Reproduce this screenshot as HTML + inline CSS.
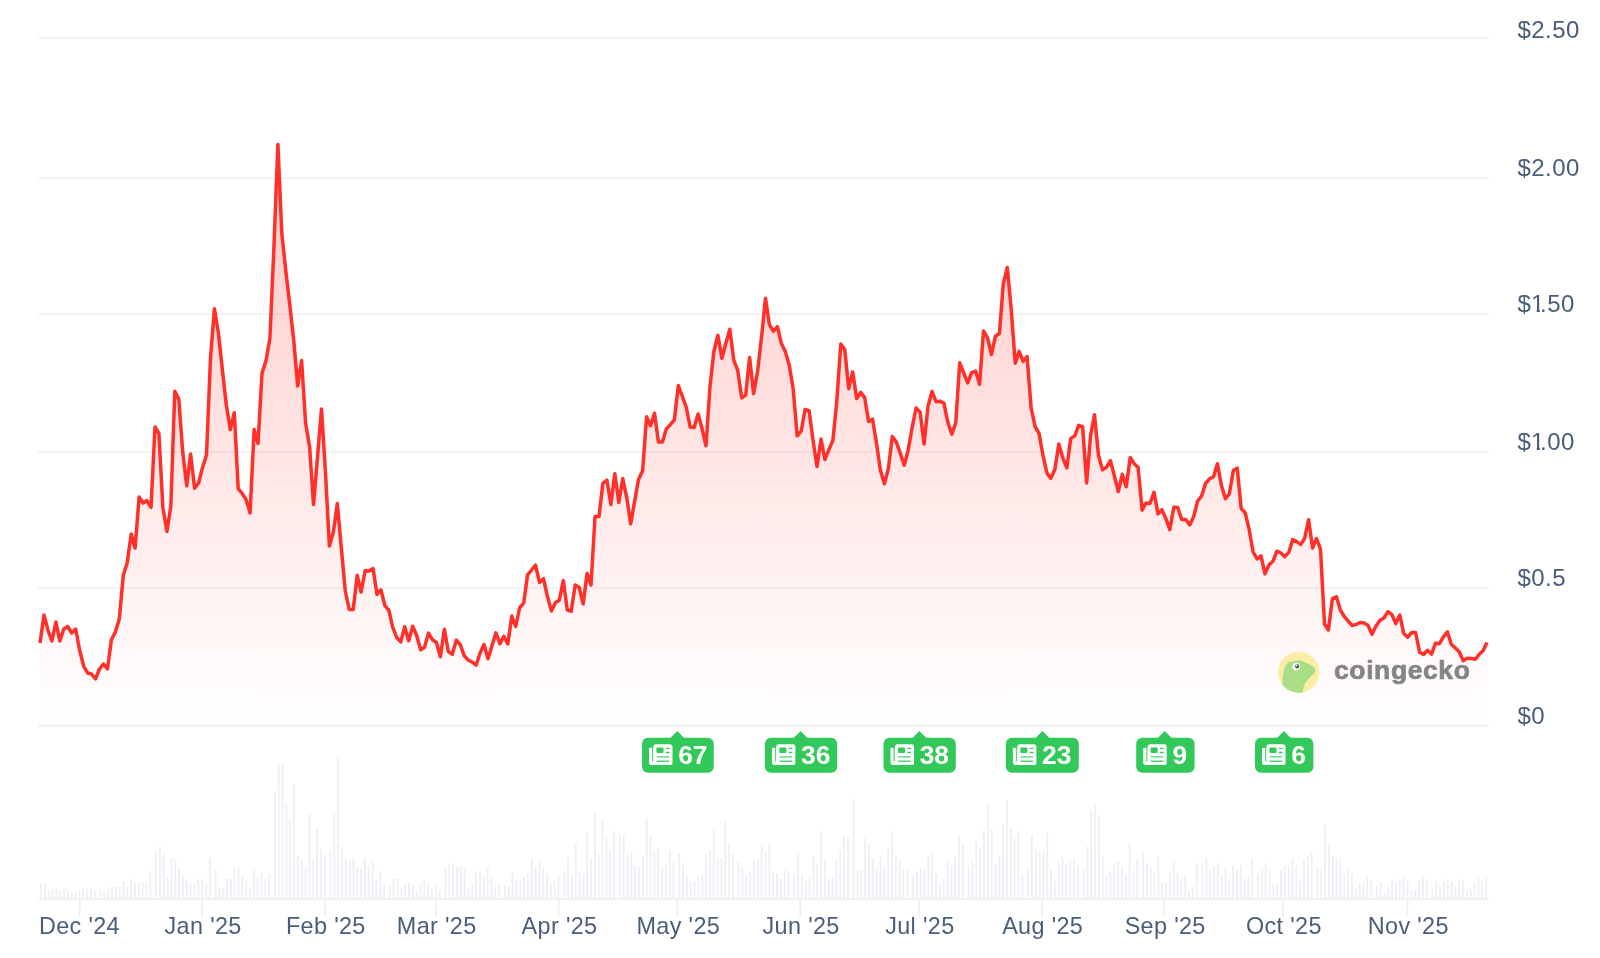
<!DOCTYPE html>
<html><head><meta charset="utf-8"><title>Chart</title>
<style>
html,body{margin:0;padding:0;background:#fff;}
body{width:1600px;height:958px;overflow:hidden;font-family:"Liberation Sans",sans-serif;}
svg{display:block;will-change:transform;}
text{font-family:"Liberation Sans",sans-serif;}
</style></head><body>
<svg width="1600" height="958" viewBox="0 0 1600 958">
<defs>
<linearGradient id="ag" gradientUnits="userSpaceOnUse" x1="0" y1="144" x2="0" y2="725">
<stop offset="0" stop-color="#ff3a33" stop-opacity="0.275"/>
<stop offset="1" stop-color="#ff3a33" stop-opacity="0"/>
</linearGradient>
</defs>
<rect width="1600" height="958" fill="#fff"/>
<rect x="38.3" y="37.2" width="1450.7" height="1.6" fill="#eef0f5"/>
<rect x="38.3" y="177.2" width="1450.7" height="1.6" fill="#eef0f5"/>
<rect x="38.3" y="313.2" width="1450.7" height="1.6" fill="#eef0f5"/>
<rect x="38.3" y="451.09999999999997" width="1450.7" height="1.6" fill="#eef0f5"/>
<rect x="38.3" y="587.2" width="1450.7" height="1.6" fill="#eef0f5"/>
<path d="M40.0,643.0 L44.0,615.0 L47.9,630.0 L51.9,641.0 L55.9,622.0 L59.8,641.0 L63.8,629.0 L67.8,626.5 L71.7,633.0 L75.7,629.0 L79.6,650.0 L83.6,666.0 L87.6,673.0 L91.5,674.0 L95.5,679.0 L99.5,669.0 L103.4,664.0 L107.4,669.0 L111.4,640.0 L115.3,632.0 L119.3,619.0 L123.3,575.0 L127.2,563.0 L131.2,534.0 L135.1,548.0 L139.1,497.0 L143.1,503.0 L147.0,500.5 L151.0,507.5 L155.0,427.0 L158.9,433.5 L162.9,508.0 L166.9,531.4 L170.8,506.6 L174.8,391.3 L178.8,399.0 L182.7,451.8 L186.7,485.7 L190.6,453.9 L194.6,488.3 L198.6,483.0 L202.5,467.5 L206.5,455.0 L210.5,358.0 L214.4,308.8 L218.4,333.0 L222.4,370.0 L226.3,404.8 L230.3,429.6 L234.3,412.7 L238.2,488.6 L242.2,493.5 L246.1,499.5 L250.1,513.0 L254.1,429.6 L258.0,443.4 L262.0,373.5 L266.0,360.5 L269.9,338.5 L273.9,248.0 L277.9,144.4 L281.8,233.0 L285.8,271.0 L289.8,305.0 L293.7,340.0 L297.7,386.0 L301.6,360.5 L305.6,423.0 L309.6,447.0 L313.5,504.5 L317.5,457.0 L321.5,409.0 L325.4,471.0 L329.4,546.0 L333.4,532.0 L337.3,503.5 L341.3,548.0 L345.3,591.0 L349.2,609.5 L353.2,609.5 L357.2,575.3 L361.1,592.0 L365.1,570.7 L369.0,571.0 L373.0,568.6 L377.0,594.4 L380.9,589.8 L384.9,605.6 L388.9,610.4 L392.8,627.7 L396.8,637.7 L400.8,641.9 L404.7,626.8 L408.7,640.7 L412.7,626.2 L416.6,635.2 L420.6,649.8 L424.5,647.3 L428.5,633.1 L432.5,639.8 L436.4,642.5 L440.4,656.7 L444.4,629.3 L448.3,651.5 L452.3,654.3 L456.3,640.1 L460.2,644.5 L464.2,655.7 L468.2,660.1 L472.1,662.0 L476.1,665.2 L480.0,653.3 L484.0,644.5 L488.0,658.7 L491.9,645.9 L495.9,632.8 L499.9,643.8 L503.8,636.4 L507.8,644.0 L511.8,616.0 L515.7,626.5 L519.7,607.5 L523.7,603.1 L527.6,574.8 L531.6,570.0 L535.5,565.1 L539.5,582.4 L543.5,578.7 L547.4,596.3 L551.4,610.9 L555.4,602.8 L559.3,600.2 L563.3,580.6 L567.3,609.9 L571.2,611.3 L575.2,585.0 L579.2,587.5 L583.1,603.9 L587.1,573.4 L591.0,585.0 L595.0,516.5 L599.0,516.5 L602.9,483.3 L606.9,480.0 L610.9,504.5 L614.8,473.7 L618.8,502.5 L622.8,478.5 L626.7,497.3 L630.7,523.7 L634.7,500.9 L638.6,479.2 L642.6,470.8 L646.6,416.8 L650.5,425.7 L654.5,413.2 L658.4,442.0 L662.4,442.0 L666.4,428.8 L670.3,424.7 L674.3,420.0 L678.3,385.6 L682.2,396.0 L686.2,407.2 L690.2,427.1 L694.1,427.6 L698.1,414.0 L702.1,428.8 L706.0,445.8 L710.0,386.0 L713.9,351.5 L717.9,335.2 L721.9,358.4 L725.8,343.5 L729.8,329.3 L733.8,360.4 L737.7,370.3 L741.7,397.7 L745.7,395.1 L749.6,357.4 L753.6,393.5 L757.6,371.3 L761.5,337.6 L765.5,298.3 L769.4,324.7 L773.4,331.3 L777.4,326.7 L781.3,343.2 L785.3,351.5 L789.3,365.4 L793.2,389.2 L797.2,435.8 L801.2,431.2 L805.1,409.4 L809.1,410.6 L813.1,440.7 L817.0,466.5 L821.0,439.1 L824.9,459.6 L828.9,449.7 L832.9,440.3 L836.8,401.1 L840.8,343.9 L844.8,349.7 L848.7,388.7 L852.7,372.0 L856.7,398.6 L860.6,392.3 L864.6,397.4 L868.6,421.5 L872.5,419.2 L876.5,443.1 L880.4,470.3 L884.4,483.8 L888.4,468.4 L892.3,436.5 L896.3,442.1 L900.3,453.4 L904.2,465.2 L908.2,450.0 L912.2,427.1 L916.1,407.9 L920.1,412.1 L924.1,444.0 L928.0,406.4 L932.0,391.4 L936.0,401.7 L939.9,401.2 L943.9,403.1 L947.8,422.4 L951.8,434.2 L955.8,422.4 L959.7,362.8 L963.7,373.0 L967.7,382.9 L971.6,372.6 L975.6,371.1 L979.6,384.3 L983.5,330.9 L987.5,337.9 L991.5,354.5 L995.4,336.2 L999.4,333.5 L1003.3,283.8 L1007.3,267.5 L1011.3,310.1 L1015.2,363.2 L1019.2,351.4 L1023.2,361.5 L1027.1,356.5 L1031.1,407.8 L1035.1,426.6 L1039.0,433.4 L1043.0,455.4 L1047.0,473.4 L1050.9,478.4 L1054.9,469.2 L1058.8,444.1 L1062.8,457.9 L1066.8,467.9 L1070.7,438.6 L1074.7,435.9 L1078.7,425.3 L1082.6,426.6 L1086.6,483.0 L1090.6,435.4 L1094.5,414.8 L1098.5,455.4 L1102.5,469.9 L1106.4,467.4 L1110.4,460.6 L1114.3,475.5 L1118.3,491.5 L1122.3,474.3 L1126.2,486.8 L1130.2,457.5 L1134.2,463.8 L1138.1,467.4 L1142.1,510.1 L1146.1,502.9 L1150.0,503.4 L1154.0,492.4 L1158.0,513.9 L1161.9,509.7 L1165.9,518.6 L1169.8,529.6 L1173.8,507.3 L1177.8,507.6 L1181.7,519.5 L1185.7,519.5 L1189.7,524.9 L1193.6,516.7 L1197.6,501.1 L1201.6,496.0 L1205.5,483.5 L1209.5,478.8 L1213.5,476.8 L1217.4,463.8 L1221.4,485.4 L1225.4,498.7 L1229.3,494.0 L1233.3,470.5 L1237.2,468.2 L1241.2,508.6 L1245.2,512.8 L1249.1,529.2 L1253.1,552.0 L1257.1,559.0 L1261.0,555.9 L1265.0,573.9 L1269.0,564.9 L1272.9,561.3 L1276.9,551.2 L1280.9,553.0 L1284.8,556.6 L1288.8,552.4 L1292.7,539.5 L1296.7,541.6 L1300.7,544.4 L1304.6,538.5 L1308.6,519.7 L1312.6,547.9 L1316.5,538.5 L1320.5,549.2 L1324.5,624.0 L1328.4,630.0 L1332.4,598.6 L1336.4,596.8 L1340.3,609.9 L1344.3,616.5 L1348.2,621.2 L1352.2,625.5 L1356.2,624.4 L1360.1,622.5 L1364.1,623.1 L1368.1,625.5 L1372.0,634.3 L1376.0,625.9 L1380.0,620.3 L1383.9,618.0 L1387.9,611.8 L1391.9,614.6 L1395.8,623.6 L1399.8,615.0 L1403.7,633.4 L1407.7,637.2 L1411.7,632.5 L1415.6,632.5 L1419.6,652.2 L1423.6,654.5 L1427.5,650.3 L1431.5,654.1 L1435.5,643.2 L1439.4,643.7 L1443.4,636.8 L1447.4,631.9 L1451.3,644.3 L1455.3,648.1 L1459.2,651.8 L1463.2,660.7 L1467.2,658.2 L1471.1,658.4 L1475.1,659.3 L1479.1,654.5 L1483.0,650.7 L1487.0,642.4 L1487.0,725 L40.0,725 Z" fill="url(#ag)" stroke="none"/>
<rect x="38.3" y="724.8" width="1450.7" height="2" fill="#eef0f5"/>
<g>
<circle cx="1298.7" cy="672.2" r="20.6" fill="#fbeca6"/>
<path d="M1282.4,684.5 C1282.6,679 1282.8,672 1285.1,666.8 C1286.6,663.6 1288.5,662.4 1291,661.8 C1294,660.9 1297,660.4 1299.6,660.6 C1301.8,660.8 1303.4,661.6 1305.1,662.4 C1307.4,663.2 1309.4,664.2 1311.2,665.4 C1313.2,666.6 1315.2,667.4 1315.4,669 C1315.6,670.6 1315.2,671.8 1314.3,673 C1313,674.8 1311.6,676 1309.9,677.4 C1308,679 1306.3,680.8 1305.1,683.3 C1303.6,686 1302.9,689 1302.7,692.4 A20.6,20.6 0 0 1 1282.4,684.5 Z" fill="#a9dd86"/>
<circle cx="1296.2" cy="666.6" r="3.9" fill="#fff"/>
<circle cx="1297.2" cy="666.4" r="2.1" fill="#555"/>
<circle cx="1296.6" cy="665.6" r="0.8" fill="#fff"/>
<text x="1334" y="679.3" font-size="26.5" font-weight="bold" letter-spacing="0.6" fill="#858585" stroke="#858585" stroke-width="0.7" stroke-linejoin="round">coingecko</text>
</g>
<path d="M40.0,643.0 L44.0,615.0 L47.9,630.0 L51.9,641.0 L55.9,622.0 L59.8,641.0 L63.8,629.0 L67.8,626.5 L71.7,633.0 L75.7,629.0 L79.6,650.0 L83.6,666.0 L87.6,673.0 L91.5,674.0 L95.5,679.0 L99.5,669.0 L103.4,664.0 L107.4,669.0 L111.4,640.0 L115.3,632.0 L119.3,619.0 L123.3,575.0 L127.2,563.0 L131.2,534.0 L135.1,548.0 L139.1,497.0 L143.1,503.0 L147.0,500.5 L151.0,507.5 L155.0,427.0 L158.9,433.5 L162.9,508.0 L166.9,531.4 L170.8,506.6 L174.8,391.3 L178.8,399.0 L182.7,451.8 L186.7,485.7 L190.6,453.9 L194.6,488.3 L198.6,483.0 L202.5,467.5 L206.5,455.0 L210.5,358.0 L214.4,308.8 L218.4,333.0 L222.4,370.0 L226.3,404.8 L230.3,429.6 L234.3,412.7 L238.2,488.6 L242.2,493.5 L246.1,499.5 L250.1,513.0 L254.1,429.6 L258.0,443.4 L262.0,373.5 L266.0,360.5 L269.9,338.5 L273.9,248.0 L277.9,144.4 L281.8,233.0 L285.8,271.0 L289.8,305.0 L293.7,340.0 L297.7,386.0 L301.6,360.5 L305.6,423.0 L309.6,447.0 L313.5,504.5 L317.5,457.0 L321.5,409.0 L325.4,471.0 L329.4,546.0 L333.4,532.0 L337.3,503.5 L341.3,548.0 L345.3,591.0 L349.2,609.5 L353.2,609.5 L357.2,575.3 L361.1,592.0 L365.1,570.7 L369.0,571.0 L373.0,568.6 L377.0,594.4 L380.9,589.8 L384.9,605.6 L388.9,610.4 L392.8,627.7 L396.8,637.7 L400.8,641.9 L404.7,626.8 L408.7,640.7 L412.7,626.2 L416.6,635.2 L420.6,649.8 L424.5,647.3 L428.5,633.1 L432.5,639.8 L436.4,642.5 L440.4,656.7 L444.4,629.3 L448.3,651.5 L452.3,654.3 L456.3,640.1 L460.2,644.5 L464.2,655.7 L468.2,660.1 L472.1,662.0 L476.1,665.2 L480.0,653.3 L484.0,644.5 L488.0,658.7 L491.9,645.9 L495.9,632.8 L499.9,643.8 L503.8,636.4 L507.8,644.0 L511.8,616.0 L515.7,626.5 L519.7,607.5 L523.7,603.1 L527.6,574.8 L531.6,570.0 L535.5,565.1 L539.5,582.4 L543.5,578.7 L547.4,596.3 L551.4,610.9 L555.4,602.8 L559.3,600.2 L563.3,580.6 L567.3,609.9 L571.2,611.3 L575.2,585.0 L579.2,587.5 L583.1,603.9 L587.1,573.4 L591.0,585.0 L595.0,516.5 L599.0,516.5 L602.9,483.3 L606.9,480.0 L610.9,504.5 L614.8,473.7 L618.8,502.5 L622.8,478.5 L626.7,497.3 L630.7,523.7 L634.7,500.9 L638.6,479.2 L642.6,470.8 L646.6,416.8 L650.5,425.7 L654.5,413.2 L658.4,442.0 L662.4,442.0 L666.4,428.8 L670.3,424.7 L674.3,420.0 L678.3,385.6 L682.2,396.0 L686.2,407.2 L690.2,427.1 L694.1,427.6 L698.1,414.0 L702.1,428.8 L706.0,445.8 L710.0,386.0 L713.9,351.5 L717.9,335.2 L721.9,358.4 L725.8,343.5 L729.8,329.3 L733.8,360.4 L737.7,370.3 L741.7,397.7 L745.7,395.1 L749.6,357.4 L753.6,393.5 L757.6,371.3 L761.5,337.6 L765.5,298.3 L769.4,324.7 L773.4,331.3 L777.4,326.7 L781.3,343.2 L785.3,351.5 L789.3,365.4 L793.2,389.2 L797.2,435.8 L801.2,431.2 L805.1,409.4 L809.1,410.6 L813.1,440.7 L817.0,466.5 L821.0,439.1 L824.9,459.6 L828.9,449.7 L832.9,440.3 L836.8,401.1 L840.8,343.9 L844.8,349.7 L848.7,388.7 L852.7,372.0 L856.7,398.6 L860.6,392.3 L864.6,397.4 L868.6,421.5 L872.5,419.2 L876.5,443.1 L880.4,470.3 L884.4,483.8 L888.4,468.4 L892.3,436.5 L896.3,442.1 L900.3,453.4 L904.2,465.2 L908.2,450.0 L912.2,427.1 L916.1,407.9 L920.1,412.1 L924.1,444.0 L928.0,406.4 L932.0,391.4 L936.0,401.7 L939.9,401.2 L943.9,403.1 L947.8,422.4 L951.8,434.2 L955.8,422.4 L959.7,362.8 L963.7,373.0 L967.7,382.9 L971.6,372.6 L975.6,371.1 L979.6,384.3 L983.5,330.9 L987.5,337.9 L991.5,354.5 L995.4,336.2 L999.4,333.5 L1003.3,283.8 L1007.3,267.5 L1011.3,310.1 L1015.2,363.2 L1019.2,351.4 L1023.2,361.5 L1027.1,356.5 L1031.1,407.8 L1035.1,426.6 L1039.0,433.4 L1043.0,455.4 L1047.0,473.4 L1050.9,478.4 L1054.9,469.2 L1058.8,444.1 L1062.8,457.9 L1066.8,467.9 L1070.7,438.6 L1074.7,435.9 L1078.7,425.3 L1082.6,426.6 L1086.6,483.0 L1090.6,435.4 L1094.5,414.8 L1098.5,455.4 L1102.5,469.9 L1106.4,467.4 L1110.4,460.6 L1114.3,475.5 L1118.3,491.5 L1122.3,474.3 L1126.2,486.8 L1130.2,457.5 L1134.2,463.8 L1138.1,467.4 L1142.1,510.1 L1146.1,502.9 L1150.0,503.4 L1154.0,492.4 L1158.0,513.9 L1161.9,509.7 L1165.9,518.6 L1169.8,529.6 L1173.8,507.3 L1177.8,507.6 L1181.7,519.5 L1185.7,519.5 L1189.7,524.9 L1193.6,516.7 L1197.6,501.1 L1201.6,496.0 L1205.5,483.5 L1209.5,478.8 L1213.5,476.8 L1217.4,463.8 L1221.4,485.4 L1225.4,498.7 L1229.3,494.0 L1233.3,470.5 L1237.2,468.2 L1241.2,508.6 L1245.2,512.8 L1249.1,529.2 L1253.1,552.0 L1257.1,559.0 L1261.0,555.9 L1265.0,573.9 L1269.0,564.9 L1272.9,561.3 L1276.9,551.2 L1280.9,553.0 L1284.8,556.6 L1288.8,552.4 L1292.7,539.5 L1296.7,541.6 L1300.7,544.4 L1304.6,538.5 L1308.6,519.7 L1312.6,547.9 L1316.5,538.5 L1320.5,549.2 L1324.5,624.0 L1328.4,630.0 L1332.4,598.6 L1336.4,596.8 L1340.3,609.9 L1344.3,616.5 L1348.2,621.2 L1352.2,625.5 L1356.2,624.4 L1360.1,622.5 L1364.1,623.1 L1368.1,625.5 L1372.0,634.3 L1376.0,625.9 L1380.0,620.3 L1383.9,618.0 L1387.9,611.8 L1391.9,614.6 L1395.8,623.6 L1399.8,615.0 L1403.7,633.4 L1407.7,637.2 L1411.7,632.5 L1415.6,632.5 L1419.6,652.2 L1423.6,654.5 L1427.5,650.3 L1431.5,654.1 L1435.5,643.2 L1439.4,643.7 L1443.4,636.8 L1447.4,631.9 L1451.3,644.3 L1455.3,648.1 L1459.2,651.8 L1463.2,660.7 L1467.2,658.2 L1471.1,658.4 L1475.1,659.3 L1479.1,654.5 L1483.0,650.7 L1487.0,642.4" fill="none" stroke="#ff3029" stroke-width="3.5" stroke-linejoin="round" stroke-linecap="butt"/>
<text x="1517.6" y="38" font-size="24" letter-spacing="0.4" fill="#4a5d7c">$2.50</text>
<text x="1517.6" y="176" font-size="24" letter-spacing="0.4" fill="#4a5d7c">$2.00</text>
<clipPath id="c314"><path d="M1532.0,293 H1540.0 V313 H1536.7 V309.6 H1532.0 Z"/></clipPath><text x="1517.6" y="312" font-size="24" letter-spacing="0.4" fill="#4a5d7c">$</text><text x="1531.0" y="312" font-size="24" letter-spacing="0.4" fill="#4a5d7c" clip-path="url(#c314)">1</text><text x="1540.1" y="312" font-size="24" letter-spacing="0.4" fill="#4a5d7c">.50</text>
<clipPath id="c451"><path d="M1532.0,430.9 H1540.0 V450.9 H1536.7 V447.5 H1532.0 Z"/></clipPath><text x="1517.6" y="449.9" font-size="24" letter-spacing="0.4" fill="#4a5d7c">$</text><text x="1531.0" y="449.9" font-size="24" letter-spacing="0.4" fill="#4a5d7c" clip-path="url(#c451)">1</text><text x="1540.1" y="449.9" font-size="24" letter-spacing="0.4" fill="#4a5d7c">.00</text>
<text x="1517.6" y="586" font-size="24" letter-spacing="0.4" fill="#4a5d7c">$0.5</text>
<text x="1517.6" y="724" font-size="24" letter-spacing="0.4" fill="#4a5d7c">$0</text>
<path d="M41.10,898.4v-15.9M44.93,898.4v-15.9M48.77,898.4v-7.9M52.60,898.4v-10.0M56.43,898.4v-10.0M60.26,898.4v-7.9M64.10,898.4v-10.0M67.93,898.4v-7.9M71.76,898.4v-6.0M75.60,898.4v-6.0M79.43,898.4v-7.9M83.26,898.4v-10.0M87.09,898.4v-10.0M90.93,898.4v-10.0M94.76,898.4v-7.9M100.51,898.4v-7.9M104.34,898.4v-6.0M108.17,898.4v-7.9M112.01,898.4v-11.9M115.84,898.4v-11.9M119.67,898.4v-11.9M123.51,898.4v-17.5M127.34,898.4v-11.9M131.17,898.4v-19.5M135.00,898.4v-15.9M138.84,898.4v-15.9M142.67,898.4v-15.9M146.50,898.4v-15.9M150.33,898.4v-27.0M156.08,898.4v-46.0M159.92,898.4v-52.0M163.75,898.4v-44.4M167.58,898.4v-21.4M171.42,898.4v-40.5M175.25,898.4v-38.9M179.08,898.4v-30.9M182.91,898.4v-23.0M186.75,898.4v-19.5M190.58,898.4v-15.9M194.41,898.4v-14.0M198.24,898.4v-19.5M202.08,898.4v-19.5M205.91,898.4v-14.0M209.74,898.4v-40.5M215.49,898.4v-29.0M219.33,898.4v-10.0M223.16,898.4v-10.0M226.99,898.4v-19.5M230.82,898.4v-19.5M234.66,898.4v-30.9M238.49,898.4v-30.9M242.32,898.4v-21.4M246.15,898.4v-17.5M249.99,898.4v-10.0M253.82,898.4v-29.0M257.65,898.4v-21.4M261.49,898.4v-25.0M265.32,898.4v-19.5M269.15,898.4v-25.0M274.90,898.4v-107.9M278.73,898.4v-132.8M282.57,898.4v-134.4M286.40,898.4v-94.4M290.23,898.4v-77.3M294.06,898.4v-113.4M297.90,898.4v-42.5M301.73,898.4v-38.9M305.56,898.4v-30.9M309.40,898.4v-84.9M313.23,898.4v-38.9M317.06,898.4v-71.1M320.89,898.4v-50.0M324.73,898.4v-44.4M330.48,898.4v-48.1M334.31,898.4v-84.9M338.14,898.4v-140.4M341.97,898.4v-52.0M345.81,898.4v-38.9M349.64,898.4v-37.0M353.47,898.4v-40.5M357.31,898.4v-30.9M361.14,898.4v-29.0M364.97,898.4v-40.5M368.80,898.4v-33.0M372.64,898.4v-37.0M376.47,898.4v-19.5M380.30,898.4v-27.0M384.14,898.4v-14.0M389.88,898.4v-11.9M393.72,898.4v-19.5M397.55,898.4v-19.5M401.38,898.4v-10.0M405.22,898.4v-15.9M409.05,898.4v-15.9M412.88,898.4v-14.0M416.71,898.4v-7.9M420.55,898.4v-14.0M424.38,898.4v-17.5M428.21,898.4v-14.0M432.05,898.4v-10.0M435.88,898.4v-11.9M439.71,898.4v-7.9M445.46,898.4v-30.9M449.29,898.4v-34.9M453.13,898.4v-34.9M456.96,898.4v-30.9M460.79,898.4v-33.0M464.62,898.4v-30.9M468.46,898.4v-10.0M472.29,898.4v-14.0M476.12,898.4v-27.0M479.96,898.4v-27.0M483.79,898.4v-21.4M487.62,898.4v-30.9M491.45,898.4v-21.4M495.29,898.4v-11.9M499.12,898.4v-14.0M504.87,898.4v-14.0M508.70,898.4v-11.9M512.53,898.4v-27.0M516.37,898.4v-19.5M520.20,898.4v-17.5M524.03,898.4v-21.4M527.87,898.4v-25.0M531.70,898.4v-40.5M535.53,898.4v-30.9M539.36,898.4v-37.0M543.20,898.4v-30.9M547.03,898.4v-25.0M550.86,898.4v-14.0M554.70,898.4v-17.5M558.53,898.4v-23.0M564.28,898.4v-27.0M568.11,898.4v-40.5M571.94,898.4v-25.0M575.78,898.4v-53.9M579.61,898.4v-27.0M583.44,898.4v-25.0M587.27,898.4v-65.5M591.11,898.4v-40.5M594.94,898.4v-84.9M598.77,898.4v-44.4M602.61,898.4v-77.3M606.44,898.4v-59.8M610.27,898.4v-48.1M614.10,898.4v-67.4M619.85,898.4v-63.5M623.69,898.4v-63.5M627.52,898.4v-44.4M631.35,898.4v-46.3M635.18,898.4v-33.0M639.02,898.4v-30.9M642.85,898.4v-42.5M646.68,898.4v-80.9M650.52,898.4v-63.5M654.35,898.4v-46.3M658.18,898.4v-50.0M662.01,898.4v-30.9M665.85,898.4v-34.9M669.68,898.4v-48.1M673.51,898.4v-37.0M679.26,898.4v-44.4M683.09,898.4v-34.9M686.93,898.4v-23.0M690.76,898.4v-15.9M694.59,898.4v-17.5M698.43,898.4v-21.4M702.26,898.4v-23.0M706.09,898.4v-44.4M709.92,898.4v-48.1M713.76,898.4v-71.1M717.59,898.4v-40.5M721.42,898.4v-40.5M725.25,898.4v-76.9M729.09,898.4v-56.0M732.92,898.4v-44.4M738.67,898.4v-37.0M742.50,898.4v-30.9M746.34,898.4v-23.0M750.17,898.4v-27.0M754.00,898.4v-37.0M757.83,898.4v-38.9M761.67,898.4v-53.9M765.50,898.4v-46.0M769.33,898.4v-56.0M773.16,898.4v-27.0M777.00,898.4v-25.0M780.83,898.4v-19.5M784.66,898.4v-29.0M788.50,898.4v-27.0M794.25,898.4v-25.0M798.08,898.4v-44.4M801.91,898.4v-23.0M805.74,898.4v-17.5M809.58,898.4v-21.4M813.41,898.4v-42.5M817.24,898.4v-34.9M821.07,898.4v-67.4M824.91,898.4v-38.9M828.74,898.4v-19.5M832.57,898.4v-21.4M836.41,898.4v-38.9M840.24,898.4v-48.1M844.07,898.4v-61.9M847.90,898.4v-61.9M853.65,898.4v-100.0M857.49,898.4v-29.0M861.32,898.4v-29.0M865.15,898.4v-59.8M868.98,898.4v-53.9M872.82,898.4v-40.5M876.65,898.4v-29.0M880.48,898.4v-42.5M884.32,898.4v-33.0M888.15,898.4v-50.0M891.98,898.4v-67.4M895.81,898.4v-42.5M899.65,898.4v-37.0M903.48,898.4v-29.0M907.31,898.4v-29.0M913.06,898.4v-21.4M916.89,898.4v-27.0M920.73,898.4v-30.9M924.56,898.4v-29.0M928.39,898.4v-42.5M932.23,898.4v-44.4M936.06,898.4v-25.0M939.89,898.4v-14.0M943.72,898.4v-19.5M947.56,898.4v-37.0M951.39,898.4v-33.0M955.22,898.4v-42.5M959.06,898.4v-63.5M962.89,898.4v-56.0M968.64,898.4v-33.0M972.47,898.4v-37.0M976.30,898.4v-57.9M980.14,898.4v-52.0M983.97,898.4v-67.4M987.80,898.4v-94.4M991.63,898.4v-69.3M995.47,898.4v-34.9M999.30,898.4v-42.5M1003.13,898.4v-75.0M1006.97,898.4v-98.0M1010.80,898.4v-69.3M1014.63,898.4v-59.8M1018.46,898.4v-67.4M1022.30,898.4v-25.0M1028.05,898.4v-29.0M1031.88,898.4v-63.5M1035.71,898.4v-50.0M1039.54,898.4v-48.1M1043.38,898.4v-48.1M1047.21,898.4v-65.5M1051.04,898.4v-29.0M1054.88,898.4v-17.5M1058.71,898.4v-37.0M1062.54,898.4v-42.5M1066.37,898.4v-34.9M1070.21,898.4v-37.0M1074.04,898.4v-38.9M1077.87,898.4v-33.0M1083.62,898.4v-29.0M1087.45,898.4v-52.0M1091.29,898.4v-88.5M1095.12,898.4v-94.1M1098.95,898.4v-83.0M1102.79,898.4v-42.5M1106.62,898.4v-21.4M1110.45,898.4v-27.0M1114.28,898.4v-34.9M1118.12,898.4v-37.0M1121.95,898.4v-30.9M1125.78,898.4v-23.0M1129.62,898.4v-56.0M1133.45,898.4v-27.0M1137.28,898.4v-38.9M1143.03,898.4v-46.0M1146.86,898.4v-34.9M1150.70,898.4v-30.9M1154.53,898.4v-27.0M1158.36,898.4v-42.5M1162.19,898.4v-15.9M1166.03,898.4v-15.9M1169.86,898.4v-27.0M1173.69,898.4v-37.0M1177.53,898.4v-25.0M1181.36,898.4v-19.5M1185.19,898.4v-23.0M1189.02,898.4v-7.9M1192.86,898.4v-11.9M1196.69,898.4v-34.9M1202.44,898.4v-34.9M1206.27,898.4v-40.5M1210.10,898.4v-29.0M1213.94,898.4v-33.0M1217.77,898.4v-34.9M1221.60,898.4v-23.0M1225.44,898.4v-30.9M1229.27,898.4v-19.5M1233.10,898.4v-33.0M1236.93,898.4v-29.0M1240.77,898.4v-33.0M1244.60,898.4v-19.5M1248.43,898.4v-21.4M1252.26,898.4v-40.5M1258.01,898.4v-25.0M1261.85,898.4v-29.0M1265.68,898.4v-34.9M1269.51,898.4v-29.0M1273.35,898.4v-14.0M1277.18,898.4v-14.0M1281.01,898.4v-29.0M1284.84,898.4v-33.0M1288.68,898.4v-33.0M1292.51,898.4v-40.5M1296.34,898.4v-33.0M1300.17,898.4v-17.5M1304.01,898.4v-38.9M1307.84,898.4v-42.5M1311.67,898.4v-46.0M1317.42,898.4v-30.9M1321.26,898.4v-29.0M1325.09,898.4v-73.0M1328.92,898.4v-53.9M1332.75,898.4v-42.5M1336.59,898.4v-40.5M1340.42,898.4v-38.9M1344.25,898.4v-25.0M1348.08,898.4v-29.0M1351.92,898.4v-25.0M1355.75,898.4v-10.0M1359.58,898.4v-14.0M1363.42,898.4v-15.9M1367.25,898.4v-21.4M1371.08,898.4v-17.5M1376.83,898.4v-11.9M1380.66,898.4v-15.9M1384.50,898.4v-6.0M1388.33,898.4v-11.9M1392.16,898.4v-17.5M1395.99,898.4v-15.9M1399.83,898.4v-19.5M1403.66,898.4v-21.4M1407.49,898.4v-17.5M1411.33,898.4v-7.9M1415.16,898.4v-7.9M1418.99,898.4v-19.5M1422.82,898.4v-23.0M1426.66,898.4v-19.5M1432.41,898.4v-10.0M1436.24,898.4v-17.5M1440.07,898.4v-11.9M1443.90,898.4v-17.5M1447.74,898.4v-19.5M1451.57,898.4v-17.5M1455.40,898.4v-11.9M1459.24,898.4v-17.5M1463.07,898.4v-19.5M1466.90,898.4v-7.9M1470.73,898.4v-10.0M1474.57,898.4v-15.9M1478.40,898.4v-23.0M1482.23,898.4v-17.5M1486.07,898.4v-21.4" stroke="#eef0f5" stroke-width="1.9" fill="none"/>
<rect x="38.3" y="897.9" width="1450.7" height="1.85" fill="#eef0f5"/>
<rect x="78.7" y="898" width="1.8" height="18.6" fill="#eef0f5"/>
<text x="38.9" y="934" font-size="23.4" letter-spacing="0.35" fill="#4a5d7c">Dec '24</text>
<rect x="201.3" y="898" width="1.8" height="18.6" fill="#eef0f5"/>
<text x="203.1" y="934" font-size="23.4" letter-spacing="0.35" text-anchor="middle" fill="#4a5d7c">Jan '25</text>
<rect x="324.0" y="898" width="1.8" height="18.6" fill="#eef0f5"/>
<text x="325.8" y="934" font-size="23.4" letter-spacing="0.35" text-anchor="middle" fill="#4a5d7c">Feb '25</text>
<rect x="434.90000000000003" y="898" width="1.8" height="18.6" fill="#eef0f5"/>
<text x="436.70000000000005" y="934" font-size="23.4" letter-spacing="0.35" text-anchor="middle" fill="#4a5d7c">Mar '25</text>
<rect x="557.6999999999999" y="898" width="1.8" height="18.6" fill="#eef0f5"/>
<text x="559.5" y="934" font-size="23.4" letter-spacing="0.35" text-anchor="middle" fill="#4a5d7c">Apr '25</text>
<rect x="676.5" y="898" width="1.8" height="18.6" fill="#eef0f5"/>
<text x="678.3000000000001" y="934" font-size="23.4" letter-spacing="0.35" text-anchor="middle" fill="#4a5d7c">May '25</text>
<rect x="799.3" y="898" width="1.8" height="18.6" fill="#eef0f5"/>
<text x="801.1" y="934" font-size="23.4" letter-spacing="0.35" text-anchor="middle" fill="#4a5d7c">Jun '25</text>
<rect x="918.05" y="898" width="1.8" height="18.6" fill="#eef0f5"/>
<text x="919.85" y="934" font-size="23.4" letter-spacing="0.35" text-anchor="middle" fill="#4a5d7c">Jul '25</text>
<rect x="1040.8999999999999" y="898" width="1.8" height="18.6" fill="#eef0f5"/>
<text x="1042.6999999999998" y="934" font-size="23.4" letter-spacing="0.35" text-anchor="middle" fill="#4a5d7c">Aug '25</text>
<rect x="1163.3999999999999" y="898" width="1.8" height="18.6" fill="#eef0f5"/>
<text x="1165.1999999999998" y="934" font-size="23.4" letter-spacing="0.35" text-anchor="middle" fill="#4a5d7c">Sep '25</text>
<rect x="1282.1" y="898" width="1.8" height="18.6" fill="#eef0f5"/>
<text x="1283.8999999999999" y="934" font-size="23.4" letter-spacing="0.35" text-anchor="middle" fill="#4a5d7c">Oct '25</text>
<rect x="1406.5" y="898" width="1.8" height="18.6" fill="#eef0f5"/>
<text x="1408.3" y="934" font-size="23.4" letter-spacing="0.35" text-anchor="middle" fill="#4a5d7c">Nov '25</text>
<g><rect x="642.00" y="737.75" width="71.75" height="35" rx="6" fill="#32c95a"/><path d="M670.05,738.3 L677.25,731.1 L684.45,738.3 Z" fill="#32c95a"/><g transform="translate(0.00,0)"><path d="M649,748.7 Q649,747.75 649.95,747.75 H656 V765 H651.8 A2.8,2.8 0 0 1 649,762.2 Z" fill="#fff"/><rect x="652" y="746" width="1.45" height="15.6" rx="0.7" fill="#32c95a" fill-opacity="0.8"/><rect x="652" y="744" width="2" height="3.7" fill="#32c95a"/><rect x="653.4" y="744.25" width="19.1" height="20.75" rx="2.6" fill="#fff"/><rect x="656.4" y="747.5" width="7.1" height="5.6" rx="1.1" fill="#32c95a"/><rect x="665.7" y="747.7" width="3.9" height="1.35" rx="0.67" fill="#32c95a"/><rect x="665.7" y="751.85" width="3.9" height="1.35" rx="0.67" fill="#32c95a"/><rect x="656.5" y="756.2" width="12.8" height="1.4" rx="0.7" fill="#32c95a" fill-opacity="0.85"/><rect x="656.5" y="760.55" width="12.8" height="1.4" rx="0.7" fill="#32c95a" fill-opacity="0.85"/></g><text x="678.20" y="764.1" font-size="25" font-weight="bold" fill="#fff" textLength="29.30" lengthAdjust="spacingAndGlyphs">67</text></g>
<g><rect x="764.90" y="737.75" width="72.30" height="35" rx="6" fill="#32c95a"/><path d="M793.40,738.3 L800.60,731.1 L807.80,738.3 Z" fill="#32c95a"/><g transform="translate(122.90,0)"><path d="M649,748.7 Q649,747.75 649.95,747.75 H656 V765 H651.8 A2.8,2.8 0 0 1 649,762.2 Z" fill="#fff"/><rect x="652" y="746" width="1.45" height="15.6" rx="0.7" fill="#32c95a" fill-opacity="0.8"/><rect x="652" y="744" width="2" height="3.7" fill="#32c95a"/><rect x="653.4" y="744.25" width="19.1" height="20.75" rx="2.6" fill="#fff"/><rect x="656.4" y="747.5" width="7.1" height="5.6" rx="1.1" fill="#32c95a"/><rect x="665.7" y="747.7" width="3.9" height="1.35" rx="0.67" fill="#32c95a"/><rect x="665.7" y="751.85" width="3.9" height="1.35" rx="0.67" fill="#32c95a"/><rect x="656.5" y="756.2" width="12.8" height="1.4" rx="0.7" fill="#32c95a" fill-opacity="0.85"/><rect x="656.5" y="760.55" width="12.8" height="1.4" rx="0.7" fill="#32c95a" fill-opacity="0.85"/></g><text x="801.10" y="764.1" font-size="25" font-weight="bold" fill="#fff" textLength="29.30" lengthAdjust="spacingAndGlyphs">36</text></g>
<g><rect x="883.50" y="737.75" width="72.30" height="35" rx="6" fill="#32c95a"/><path d="M912.20,738.3 L919.40,731.1 L926.60,738.3 Z" fill="#32c95a"/><g transform="translate(241.50,0)"><path d="M649,748.7 Q649,747.75 649.95,747.75 H656 V765 H651.8 A2.8,2.8 0 0 1 649,762.2 Z" fill="#fff"/><rect x="652" y="746" width="1.45" height="15.6" rx="0.7" fill="#32c95a" fill-opacity="0.8"/><rect x="652" y="744" width="2" height="3.7" fill="#32c95a"/><rect x="653.4" y="744.25" width="19.1" height="20.75" rx="2.6" fill="#fff"/><rect x="656.4" y="747.5" width="7.1" height="5.6" rx="1.1" fill="#32c95a"/><rect x="665.7" y="747.7" width="3.9" height="1.35" rx="0.67" fill="#32c95a"/><rect x="665.7" y="751.85" width="3.9" height="1.35" rx="0.67" fill="#32c95a"/><rect x="656.5" y="756.2" width="12.8" height="1.4" rx="0.7" fill="#32c95a" fill-opacity="0.85"/><rect x="656.5" y="760.55" width="12.8" height="1.4" rx="0.7" fill="#32c95a" fill-opacity="0.85"/></g><text x="919.70" y="764.1" font-size="25" font-weight="bold" fill="#fff" textLength="29.30" lengthAdjust="spacingAndGlyphs">38</text></g>
<g><rect x="1005.90" y="737.75" width="72.90" height="35" rx="6" fill="#32c95a"/><path d="M1035.30,738.3 L1042.50,731.1 L1049.70,738.3 Z" fill="#32c95a"/><g transform="translate(363.90,0)"><path d="M649,748.7 Q649,747.75 649.95,747.75 H656 V765 H651.8 A2.8,2.8 0 0 1 649,762.2 Z" fill="#fff"/><rect x="652" y="746" width="1.45" height="15.6" rx="0.7" fill="#32c95a" fill-opacity="0.8"/><rect x="652" y="744" width="2" height="3.7" fill="#32c95a"/><rect x="653.4" y="744.25" width="19.1" height="20.75" rx="2.6" fill="#fff"/><rect x="656.4" y="747.5" width="7.1" height="5.6" rx="1.1" fill="#32c95a"/><rect x="665.7" y="747.7" width="3.9" height="1.35" rx="0.67" fill="#32c95a"/><rect x="665.7" y="751.85" width="3.9" height="1.35" rx="0.67" fill="#32c95a"/><rect x="656.5" y="756.2" width="12.8" height="1.4" rx="0.7" fill="#32c95a" fill-opacity="0.85"/><rect x="656.5" y="760.55" width="12.8" height="1.4" rx="0.7" fill="#32c95a" fill-opacity="0.85"/></g><text x="1042.10" y="764.1" font-size="25" font-weight="bold" fill="#fff" textLength="29.30" lengthAdjust="spacingAndGlyphs">23</text></g>
<g><rect x="1136.20" y="737.75" width="58.40" height="35" rx="6" fill="#32c95a"/><path d="M1157.50,738.3 L1164.70,731.1 L1171.90,738.3 Z" fill="#32c95a"/><g transform="translate(494.20,0)"><path d="M649,748.7 Q649,747.75 649.95,747.75 H656 V765 H651.8 A2.8,2.8 0 0 1 649,762.2 Z" fill="#fff"/><rect x="652" y="746" width="1.45" height="15.6" rx="0.7" fill="#32c95a" fill-opacity="0.8"/><rect x="652" y="744" width="2" height="3.7" fill="#32c95a"/><rect x="653.4" y="744.25" width="19.1" height="20.75" rx="2.6" fill="#fff"/><rect x="656.4" y="747.5" width="7.1" height="5.6" rx="1.1" fill="#32c95a"/><rect x="665.7" y="747.7" width="3.9" height="1.35" rx="0.67" fill="#32c95a"/><rect x="665.7" y="751.85" width="3.9" height="1.35" rx="0.67" fill="#32c95a"/><rect x="656.5" y="756.2" width="12.8" height="1.4" rx="0.7" fill="#32c95a" fill-opacity="0.85"/><rect x="656.5" y="760.55" width="12.8" height="1.4" rx="0.7" fill="#32c95a" fill-opacity="0.85"/></g><text x="1172.40" y="764.1" font-size="25" font-weight="bold" fill="#fff" textLength="14.65" lengthAdjust="spacingAndGlyphs">9</text></g>
<g><rect x="1255.00" y="737.75" width="58.40" height="35" rx="6" fill="#32c95a"/><path d="M1276.70,738.3 L1283.90,731.1 L1291.10,738.3 Z" fill="#32c95a"/><g transform="translate(613.00,0)"><path d="M649,748.7 Q649,747.75 649.95,747.75 H656 V765 H651.8 A2.8,2.8 0 0 1 649,762.2 Z" fill="#fff"/><rect x="652" y="746" width="1.45" height="15.6" rx="0.7" fill="#32c95a" fill-opacity="0.8"/><rect x="652" y="744" width="2" height="3.7" fill="#32c95a"/><rect x="653.4" y="744.25" width="19.1" height="20.75" rx="2.6" fill="#fff"/><rect x="656.4" y="747.5" width="7.1" height="5.6" rx="1.1" fill="#32c95a"/><rect x="665.7" y="747.7" width="3.9" height="1.35" rx="0.67" fill="#32c95a"/><rect x="665.7" y="751.85" width="3.9" height="1.35" rx="0.67" fill="#32c95a"/><rect x="656.5" y="756.2" width="12.8" height="1.4" rx="0.7" fill="#32c95a" fill-opacity="0.85"/><rect x="656.5" y="760.55" width="12.8" height="1.4" rx="0.7" fill="#32c95a" fill-opacity="0.85"/></g><text x="1291.20" y="764.1" font-size="25" font-weight="bold" fill="#fff" textLength="14.65" lengthAdjust="spacingAndGlyphs">6</text></g>
</svg></body></html>
